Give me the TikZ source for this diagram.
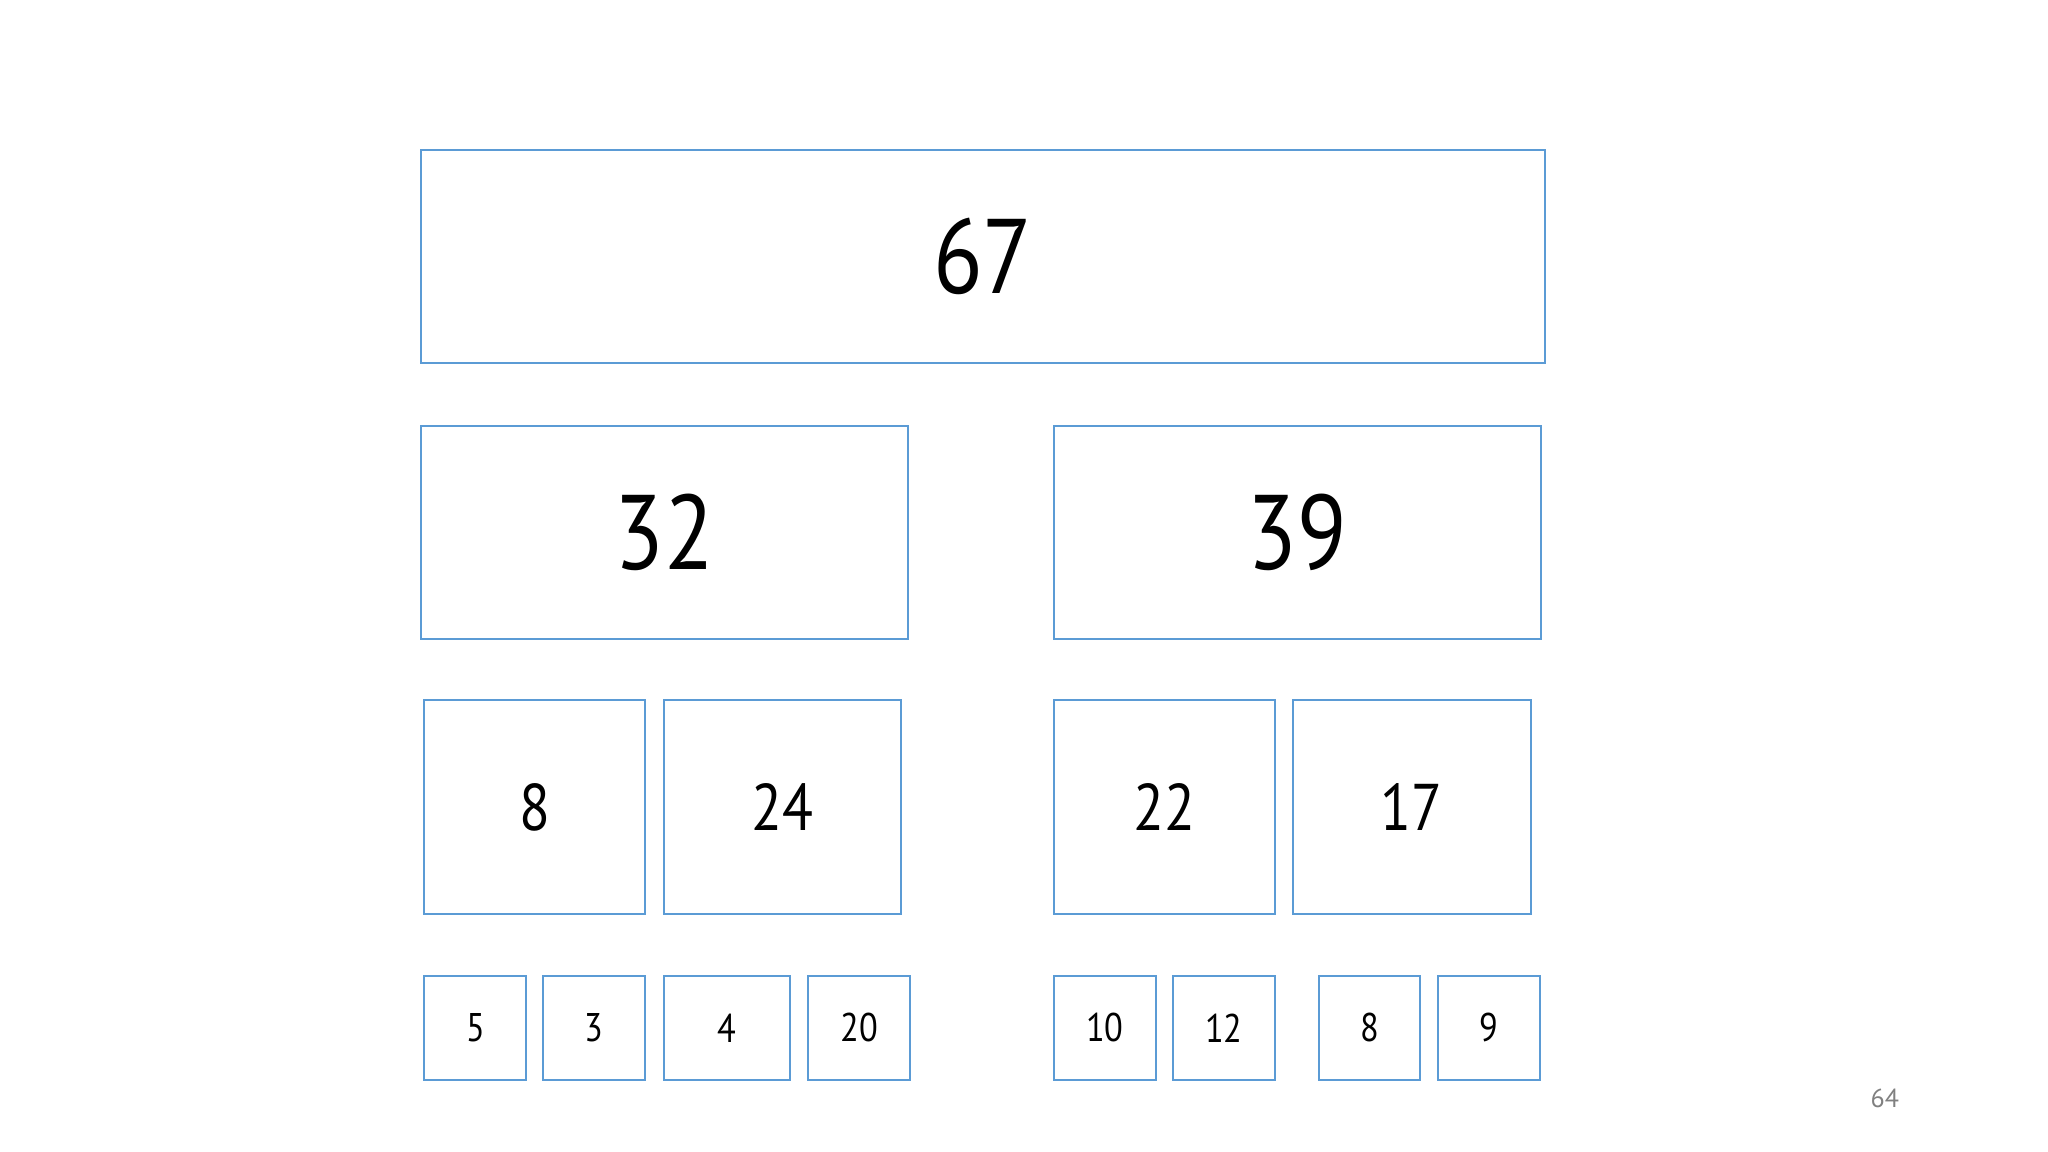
\documentclass[tikz,border=0pt]{standalone}
\usepackage{fontspec}
\usepackage{graphicx}
\setmainfont{PT Sans}
\definecolor{boxblue}{RGB}{91,155,213}
\definecolor{pagegray}{RGB}{128,128,128}
\newcommand\cell[7]{%
  \node[box, font=#6, minimum width={(#4-#2)*0.6531pt}, minimum height={(#5-#3)*0.6531pt}]
    (#1) at ({(#2+#4)/2},{(#3+#5)/2}) {\scalebox{0.86}[1]{#7}};}
\tikzset{box/.style={draw=boxblue, line width=1pt, inner sep=0pt, fill=white, text=black}}
\begin{document}
\begin{tikzpicture}[x=0.6531pt, y=-0.6531pt]
\useasboundingbox[fill=white] (0,0) rectangle (1568,882);
% level 0
\cell{n67}{322}{115}{1183}{278}{\fontsize{53}{62}\selectfont}{67}
% level 1
\cell{n32}{322}{326}{695}{489}{\fontsize{53}{62}\selectfont}{32}
\cell{n39}{807}{326}{1180}{489}{\fontsize{53}{62}\selectfont}{39}
% level 2
\cell{n8a}{325}{536}{494}{700}{\fontsize{33}{40}\selectfont}{8}
\cell{n24}{508}{536}{690}{700}{\fontsize{33}{40}\selectfont}{24}
\cell{n22}{807}{536}{976}{700}{\fontsize{33}{40}\selectfont}{22}
\cell{n17}{990}{536}{1172}{700}{\fontsize{33}{40}\selectfont}{17}
% level 3
\cell{n5}{325}{747}{403}{827}{\fontsize{20}{24}\selectfont}{5}
\cell{n3}{416}{747}{494}{827}{\fontsize{20}{24}\selectfont}{3}
\cell{n4}{508}{747}{605}{827}{\fontsize{20}{24}\selectfont}{4}
\cell{n20}{619}{747}{697}{827}{\fontsize{20}{24}\selectfont}{20}
\cell{n10}{807}{747}{885}{827}{\fontsize{20}{24}\selectfont}{10}
\cell{n12}{898}{747}{976}{827}{\fontsize{20}{24}\selectfont}{12}
\cell{n8b}{1010}{747}{1087}{827}{\fontsize{20}{24}\selectfont}{8}
\cell{n9}{1101}{747}{1179}{827}{\fontsize{20}{24}\selectfont}{9}
% page number
\node[text=pagegray, font=\fontsize{13}{16}\selectfont, inner sep=0pt] (page) at (1443,841) {64};
\end{tikzpicture}
\end{document}
